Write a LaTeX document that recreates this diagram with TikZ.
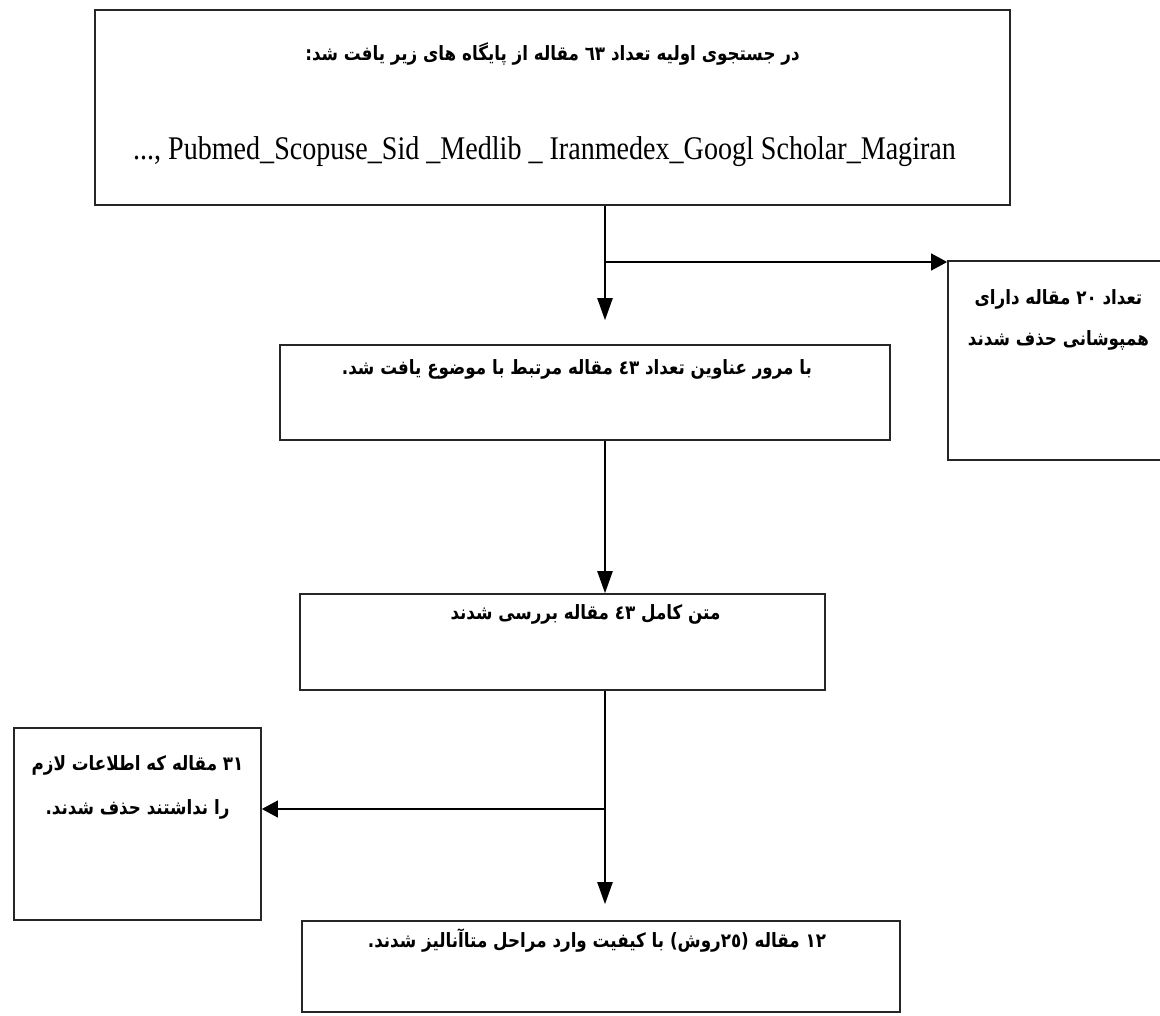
\documentclass[tikz,border=0pt]{standalone}
\usepackage{fontspec}
\setmainfont{Liberation Serif}[FakeStretch=0.85]
\newfontfamily\farsi[Script=Arabic, FakeStretch=0.85]{DejaVu Sans}
\TeXXeTstate=1
\usetikzlibrary{arrows.meta, positioning, calc}

\begin{document}
\begin{tikzpicture}[
    box/.style={
        draw=black!85,
        line width=1.2pt
    },
    fatext/.style={
        font=\farsi\bfseries\fontsize{14}{29}\selectfont,
        align=center,
        inner sep=0pt
    },
    latext/.style={
        font=\fontsize{23.5}{28}\selectfont,
        inner sep=0pt
    },
    line/.style={
        line width=1.2pt
    },
    arrow/.style={
        line width=1.2pt,
        -{Triangle[length=0.55cm, width=0.38cm]}
    },
    harrow/.style={
        line width=1.2pt,
        -{Triangle[length=0.4cm, width=0.42cm]}
    }
]
\useasboundingbox (0,0) rectangle (29,-25.4);

% Boxes
\node[box, minimum width=22.875cm, minimum height=4.875cm] (init) at (13.8125,-2.6875) {};
\node[box, minimum width=5.6cm, minimum height=4.975cm] (overlap) at (26.5,-9.0125) {};
\node[box, minimum width=15.25cm, minimum height=2.375cm] (titles) at (14.625,-9.8125) {};
\node[box, minimum width=13.125cm, minimum height=2.4cm] (fulltext) at (14.0625,-16.05) {};
\node[box, minimum width=6.175cm, minimum height=4.8cm] (excluded) at (3.4375,-20.6) {};
\node[box, minimum width=14.95cm, minimum height=2.275cm] (final) at (15.025,-24.1625) {};

% Texts
\node[fatext] (initfa) at ($(init.north)+(0,-1.12)$)
    {\beginR در جستجوی اولیه تعداد ٦٣ مقاله از پایگاه های زیر یافت شد:\endR};
\node[latext] (initlat) at ($(init.north)+(-0.2,-3.55)$)
    {..., Pubmed\_Scopuse\_Sid \_Medlib \_ Iranmedex\_Googl Scholar\_Magiran};
\node[fatext, anchor=east] (overlaptxt) at ($(overlap.north west)+(5.05,-1.5)$)
    {\beginR تعداد ٢٠ مقاله دارای\endR\\\beginR همپوشانی حذف شدند\endR};
\node[fatext] (titlestxt) at ($(titles.north)+(-0.2,-0.62)$)
    {\beginR با مرور عناوین تعداد ٤٣ مقاله مرتبط با موضوع یافت شد.\endR};
\node[fatext] (fulltexttxt) at ($(fulltext.north)+(0.575,-0.52)$)
    {\beginR متن کامل ٤٣ مقاله بررسی شدند\endR};
\node[fatext, font=\farsi\bfseries\fontsize{14}{31}\selectfont] (excludedtxt) at ($(excluded.north)+(0,-1.5)$)
    {\beginR ٣١ مقاله که اطلاعات لازم\endR\\\beginR را نداشتند حذف شدند.\endR};
\node[fatext] (finaltxt) at ($(final.north)+(-0.1,-0.52)$)
    {\beginR ١٢ مقاله (٢٥روش) با کیفیت وارد مراحل متاآنالیز شدند.\endR};

% Connectors
\coordinate (split1) at (15.125,-6.55);
\coordinate (split2) at (15.125,-20.225);

\draw[line] (init.south -| split1) -- (split1);
\draw[arrow, shorten >=0.6cm] (split1) -- (titles.north -| split1);
\draw[harrow] (split1) -- (overlap.west |- split1);
\draw[arrow] (titles.south -| split1) -- (fulltext.north -| split1);
\draw[line] (fulltext.south -| split2) -- (split2);
\draw[arrow, shorten >=0.4cm] (split2) -- (final.north -| split2);
\draw[harrow] (split2) -- (excluded.east |- split2);

\end{tikzpicture}
\end{document}
